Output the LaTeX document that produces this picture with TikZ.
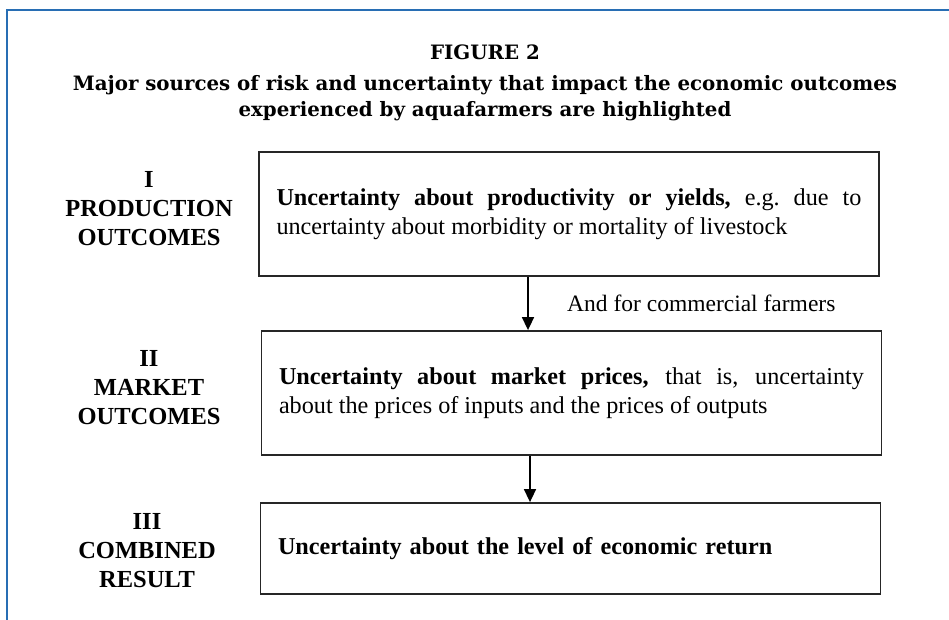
\documentclass[tikz,border=0pt]{standalone}
\usepackage{fontspec}
\setmainfont{Liberation Serif}
\newfontfamily\slab{DejaVu Serif}
\usetikzlibrary{arrows.meta}
\definecolor{frameblue}{RGB}{40,110,180}
\begin{document}
\begin{tikzpicture}[x=1pt,y=-1pt,
  box/.style={draw=black!85, line width=1.8pt, rectangle, inner sep=0pt,
    text width=585pt, align=justify, minimum width=620pt,
    font=\fontsize{24.2}{29}\selectfont},
  lab/.style={font=\bfseries\fontsize{24.5}{29}\selectfont, align=center},
  conn/.style={line width=1.6pt, -{Triangle[width=12pt,length=13pt]}},
  note/.style={font=\fontsize{23.5}{29}\selectfont, anchor=west, inner sep=0pt},
  ttl/.style={font=\slab\bfseries\fontsize{19.8}{26}\selectfont, align=center}
]
\useasboundingbox (0,0) rectangle (949,620);
\draw[frameblue, line width=2pt] (7,620) -- (7,10) -- (949,10);

\node[ttl] (title) at (485,52) {FIGURE 2};
\node[ttl] (sub) at (485,98) {Major sources of risk and uncertainty that impact the economic outcomes\\experienced by aquafarmers are highlighted};

\node[box, minimum height=124pt] (b1) at (569,214)
  {\frenchspacing\textbf{Uncertainty about productivity or yields,} e.g. due to\linebreak uncertainty about morbidity or mortality of livestock};
\node[box, minimum height=124pt] (b2) at (571.5,393)
  {\textbf{Uncertainty about market prices,} that is, uncertainty\linebreak about the prices of inputs and the prices of outputs};
\node[box, minimum height=91pt, align=left] (b3) at (570.5,548.5)
  {\textbf{Uncertainty about the level of economic return}};

\node[lab] (l1) at (149,209) {I\\PRODUCTION\\OUTCOMES};
\node[lab] (l2) at (149,388) {II\\MARKET\\OUTCOMES};
\node[lab] (l3) at (147,551) {III\\COMBINED\\RESULT};

\coordinate (a1) at (528,0);
\coordinate (a2) at (530,0);
\draw[conn] (b1.south -| a1) -- (b2.north -| a1);
\draw[conn] (b2.south -| a2) -- (b3.north -| a2);
\node[note] (n1) at (567,303) {And for commercial farmers};
\end{tikzpicture}
\end{document}
